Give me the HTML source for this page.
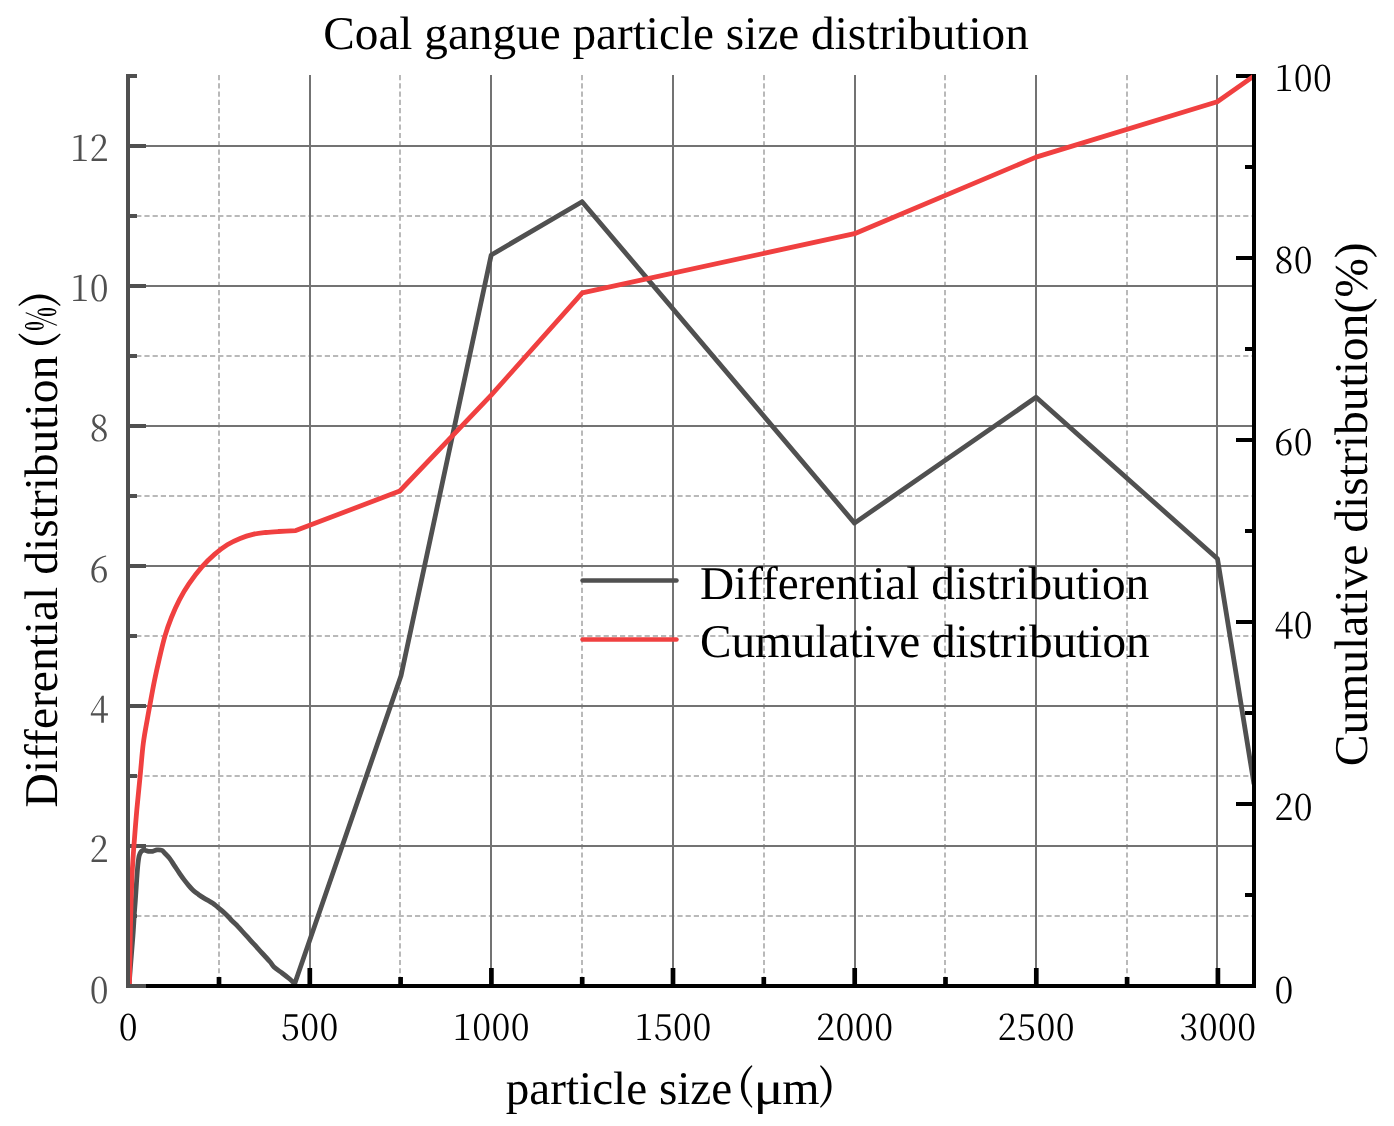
<!DOCTYPE html>
<html lang="en">
<head>
<meta charset="utf-8">
<title>Coal gangue particle size distribution</title>
<style>
html,body{margin:0;padding:0;background:#fff;}
body{width:1394px;height:1126px;overflow:hidden;}
svg{display:block;text-rendering:geometricPrecision;will-change:transform;}
.t{font-family:'Liberation Serif','Times New Roman',serif;font-size:47px;fill:#000;}
.n{font-family:'Noto Serif CJK SC','Liberation Serif',serif;font-size:36.8px;font-weight:400;fill:#000;letter-spacing:0.55px;}
.nl{fill:#505050;}
</style>
</head>
<body>
<svg width="1394" height="1126" viewBox="0 0 1394 1126">
<rect x="0" y="0" width="1394" height="1126" fill="#ffffff"/>
<g stroke="#b9b9b9" stroke-width="2" fill="none">
<line x1="219" y1="75" x2="219" y2="984" stroke-dasharray="5.2 3.07"/>
<line x1="400" y1="75" x2="400" y2="984" stroke-dasharray="5.2 3.07"/>
<line x1="582" y1="75" x2="582" y2="984" stroke-dasharray="5.2 3.07"/>
<line x1="764" y1="75" x2="764" y2="984" stroke-dasharray="5.2 3.07"/>
<line x1="945" y1="75" x2="945" y2="984" stroke-dasharray="5.2 3.07"/>
<line x1="1127" y1="75" x2="1127" y2="984" stroke-dasharray="5.2 3.07"/>
<line x1="128" y1="916.0" x2="1252" y2="916.0" stroke-dasharray="5.2 3"/>
<line x1="128" y1="776.0" x2="1252" y2="776.0" stroke-dasharray="5.2 3"/>
<line x1="128" y1="636.0" x2="1252" y2="636.0" stroke-dasharray="5.2 3"/>
<line x1="128" y1="496.0" x2="1252" y2="496.0" stroke-dasharray="5.2 3"/>
<line x1="128" y1="356.0" x2="1252" y2="356.0" stroke-dasharray="5.2 3"/>
<line x1="128" y1="216.0" x2="1252" y2="216.0" stroke-dasharray="5.2 3"/>
</g>
<g stroke="#737373" stroke-width="2" fill="none">
<line x1="310" y1="75" x2="310" y2="984"/>
<line x1="491" y1="75" x2="491" y2="984"/>
<line x1="673" y1="75" x2="673" y2="984"/>
<line x1="855" y1="75" x2="855" y2="984"/>
<line x1="1036" y1="75" x2="1036" y2="984"/>
<line x1="1217" y1="75" x2="1217" y2="984"/>
<line x1="130" y1="846.0" x2="1252" y2="846.0"/>
<line x1="130" y1="706.0" x2="1252" y2="706.0"/>
<line x1="130" y1="566.0" x2="1252" y2="566.0"/>
<line x1="130" y1="426.0" x2="1252" y2="426.0"/>
<line x1="130" y1="286.0" x2="1252" y2="286.0"/>
<line x1="130" y1="146.0" x2="1252" y2="146.0"/>
</g>
<g stroke="#000" stroke-width="4" fill="none" stroke-linecap="butt">
<line x1="126" y1="986" x2="1256" y2="986"/>
<line x1="309.8" y1="986" x2="309.8" y2="968" stroke-width="4.7"/>
<line x1="491.4" y1="986" x2="491.4" y2="968" stroke-width="4.7"/>
<line x1="673.0" y1="986" x2="673.0" y2="968" stroke-width="4.7"/>
<line x1="854.7" y1="986" x2="854.7" y2="968" stroke-width="4.7"/>
<line x1="1036.3" y1="986" x2="1036.3" y2="968" stroke-width="4.7"/>
<line x1="1217.9" y1="986" x2="1217.9" y2="968" stroke-width="4.7"/>
<line x1="219.0" y1="986" x2="219.0" y2="977" stroke-width="4.7"/>
<line x1="400.6" y1="986" x2="400.6" y2="977" stroke-width="4.7"/>
<line x1="582.2" y1="986" x2="582.2" y2="977" stroke-width="4.7"/>
<line x1="763.8" y1="986" x2="763.8" y2="977" stroke-width="4.7"/>
<line x1="945.5" y1="986" x2="945.5" y2="977" stroke-width="4.7"/>
<line x1="1127.1" y1="986" x2="1127.1" y2="977" stroke-width="4.7"/>
<line x1="1254" y1="74" x2="1254" y2="988"/>
<line x1="1254" y1="986.0" x2="1236" y2="986.0"/>
<line x1="1254" y1="804.0" x2="1236" y2="804.0"/>
<line x1="1254" y1="622.0" x2="1236" y2="622.0"/>
<line x1="1254" y1="440.0" x2="1236" y2="440.0"/>
<line x1="1254" y1="258.0" x2="1236" y2="258.0"/>
<line x1="1254" y1="76.0" x2="1236" y2="76.0"/>
<line x1="1254" y1="895.0" x2="1245" y2="895.0"/>
<line x1="1254" y1="713.0" x2="1245" y2="713.0"/>
<line x1="1254" y1="531.0" x2="1245" y2="531.0"/>
<line x1="1254" y1="349.0" x2="1245" y2="349.0"/>
<line x1="1254" y1="167.0" x2="1245" y2="167.0"/>
</g>
<g stroke="#505050" stroke-width="4" fill="none">
<line x1="128" y1="986.0" x2="146" y2="986.0"/>
<line x1="128" y1="846.0" x2="146" y2="846.0"/>
<line x1="128" y1="706.0" x2="146" y2="706.0"/>
<line x1="128" y1="566.0" x2="146" y2="566.0"/>
<line x1="128" y1="426.0" x2="146" y2="426.0"/>
<line x1="128" y1="286.0" x2="146" y2="286.0"/>
<line x1="128" y1="146.0" x2="146" y2="146.0"/>
<line x1="128" y1="916.0" x2="137" y2="916.0"/>
<line x1="128" y1="776.0" x2="137" y2="776.0"/>
<line x1="128" y1="636.0" x2="137" y2="636.0"/>
<line x1="128" y1="496.0" x2="137" y2="496.0"/>
<line x1="128" y1="356.0" x2="137" y2="356.0"/>
<line x1="128" y1="216.0" x2="137" y2="216.0"/>
<line x1="128" y1="76.0" x2="137" y2="76.0"/>
</g>
<clipPath id="pc"><rect x="130" y="70" width="1122" height="914"/></clipPath>
<g clip-path="url(#pc)" fill="none" stroke-width="4.8" stroke-linejoin="round" stroke-linecap="butt">
<path d="M129.0 986.0 C129.3 981.7 130.3 968.5 131.0 960.0 C131.7 951.5 132.4 942.9 133.0 935.0 C133.6 927.1 134.0 918.4 134.4 912.7 C134.8 907.0 134.9 906.5 135.3 901.0 C135.7 895.5 136.3 885.6 136.7 879.7 C137.1 873.8 137.4 869.5 137.8 865.5 C138.2 861.5 138.6 858.0 139.2 855.6 C139.8 853.2 140.5 852.2 141.3 851.3 C142.1 850.4 143.0 850.2 144.2 850.2 C145.4 850.2 147.0 851.1 148.4 851.3 C149.8 851.5 151.3 851.5 152.7 851.3 C154.1 851.1 155.4 850.0 156.9 849.9 C158.4 849.8 160.6 849.8 161.9 850.4 C163.2 851.0 163.5 851.9 164.8 853.2 C166.1 854.5 168.0 856.3 169.6 858.4 C171.2 860.5 172.8 863.2 174.4 865.6 C176.0 868.0 177.6 870.5 179.2 872.8 C180.8 875.1 182.4 877.5 184.0 879.6 C185.6 881.7 187.2 883.7 188.8 885.6 C190.4 887.5 192.0 889.3 193.6 890.8 C195.2 892.3 196.8 893.3 198.4 894.4 C200.0 895.5 201.6 896.6 203.2 897.6 C204.8 898.6 206.4 899.5 208.0 900.4 C209.6 901.3 211.2 902.1 212.8 903.2 C214.4 904.3 216.0 905.8 217.6 907.1 C219.2 908.4 220.8 909.7 222.4 911.1 C224.0 912.5 225.5 913.9 227.1 915.5 C228.7 917.1 230.1 918.9 231.9 920.7 C233.7 922.6 235.7 924.2 238.0 926.6 C240.3 929.0 243.3 932.5 246.0 935.4 C248.7 938.3 251.3 941.3 254.0 944.2 C256.7 947.1 259.3 950.1 262.0 953.0 C264.7 955.9 268.0 959.5 270.0 961.8 C272.0 964.1 272.0 965.1 274.0 967.0 C276.0 968.9 279.3 971.0 282.0 973.0 C284.7 975.0 287.9 977.5 290.0 979.3 C292.1 981.1 293.9 983.0 294.7 983.7 L401.0 675.8 L491.2 255.0 L582.1 201.7 L854.5 523.1 L1036.1 397.3 L1217.5 558.8 L1254.0 784.2" stroke="#505050"/>
<path d="M129.4 986.0 C129.5 981.1 129.7 968.2 129.9 956.7 C130.1 945.2 130.3 930.0 130.7 916.7 C131.0 903.4 131.5 888.5 132.0 876.7 C132.5 864.9 133.1 857.1 133.9 846.0 C134.7 834.9 135.8 821.8 136.8 810.0 C137.9 798.2 139.1 786.4 140.2 775.3 C141.3 764.2 142.1 752.5 143.3 743.3 C144.5 734.1 145.9 727.2 147.2 720.0 C148.4 712.8 149.6 706.7 150.8 700.0 C152.0 693.3 153.2 686.7 154.6 679.9 C156.0 673.1 157.5 666.4 159.2 659.1 C160.9 651.8 163.0 642.8 165.0 635.9 C167.0 629.0 169.0 623.5 171.4 617.5 C173.8 611.5 176.5 605.5 179.4 599.9 C182.3 594.3 185.2 589.3 188.9 583.9 C192.6 578.5 197.4 572.1 201.7 567.2 C206.0 562.3 210.2 558.1 214.5 554.4 C218.8 550.7 223.0 547.5 227.3 544.8 C231.6 542.1 235.8 540.1 240.1 538.4 C244.4 536.7 248.6 535.4 252.9 534.4 C257.2 533.4 261.4 533.0 265.7 532.5 C270.0 532.0 273.5 531.8 278.5 531.5 C283.5 531.2 292.9 530.8 295.8 530.6 L399.8 491.0 L491.2 395.1 L582.3 292.9 L854.5 233.7 L1036.1 157.1 L1217.3 101.8 L1254.0 76.0" stroke="#F04040"/>
</g>
<line x1="128" y1="74" x2="128" y2="988" stroke="#505050" stroke-width="4"/>
<line x1="582.5" y1="580.6" x2="676.5" y2="580.6" stroke="#505050" stroke-width="4.5" stroke-linecap="round"/>
<line x1="582.5" y1="639.5" x2="676.5" y2="639.5" stroke="#F04040" stroke-width="4.5" stroke-linecap="round"/>
<text class="t" transform="translate(699.9 599) scale(1.0055 1)">Differential distribution</text>
<text class="t" transform="translate(699.9 656.6) scale(1.0045 1)">Cumulative distribution</text>
<text class="t" transform="translate(323.3 49.4) scale(1.0047 1)">Coal gangue particle size distribution</text>
<g><text class="t" transform="translate(505.8 1104) scale(1.003 1)">particle size</text><text transform="translate(736.77 1099.30) scale(1.12 1)" style="font-family:'Noto Serif CJK SC','Liberation Serif',serif;font-size:41px;font-weight:500">(</text><text transform="translate(753.59 1104.00) scale(1.2 1)" style="font-family:'Liberation Serif','Times New Roman',serif;font-size:47px;font-weight:400">μ</text><text transform="translate(782.14 1104.00) scale(1.02 1)" style="font-family:'Liberation Serif','Times New Roman',serif;font-size:47px;font-weight:400">m</text><text transform="translate(818.62 1099.30) scale(1.12 1)" style="font-family:'Noto Serif CJK SC','Liberation Serif',serif;font-size:41px;font-weight:500">)</text></g>
<g><text class="t" transform="translate(57.1 807.4) rotate(-90) scale(1.0108 1)">Differential distribution</text><g transform="translate(57.1 806.5) rotate(-90)"><text transform="translate(457.27 -4.70) scale(1.12 1)" style="font-family:'Noto Serif CJK SC','Liberation Serif',serif;font-size:41px;font-weight:500">(</text><text transform="translate(475.61 -1.50) scale(0.6 1)" style="font-family:'Noto Serif CJK SC','Liberation Serif',serif;font-size:41.4px;font-weight:700">%</text><text transform="translate(499.12 -4.70) scale(1.12 1)" style="font-family:'Noto Serif CJK SC','Liberation Serif',serif;font-size:41px;font-weight:500">)</text></g></g>
<text class="t" transform="translate(1367.2 766.2) rotate(-90) scale(1.0107 1)">Cumulative distribution(%)</text>
<text class="n nl" text-anchor="end" transform="translate(109.0 1002.5) scale(0.93 1)">0</text>
<text class="n nl" text-anchor="end" transform="translate(109.0 862.2) scale(0.93 1)">2</text>
<text class="n nl" text-anchor="end" transform="translate(109.0 721.9) scale(0.93 1)">4</text>
<text class="n nl" text-anchor="end" transform="translate(109.0 581.6) scale(0.93 1)">6</text>
<text class="n nl" text-anchor="end" transform="translate(109.0 441.3) scale(0.93 1)">8</text>
<text class="n nl" text-anchor="end" transform="translate(109.0 301.0) scale(0.93 1)">10</text>
<text class="n nl" text-anchor="end" transform="translate(109.0 160.7) scale(0.93 1)">12</text>
<text class="n" text-anchor="middle" transform="translate(128.3 1039.5) scale(0.93 1)">0</text>
<text class="n" text-anchor="middle" transform="translate(309.9 1039.5) scale(0.93 1)">500</text>
<text class="n" text-anchor="middle" transform="translate(491.5 1039.5) scale(0.93 1)">1000</text>
<text class="n" text-anchor="middle" transform="translate(673.1 1039.5) scale(0.93 1)">1500</text>
<text class="n" text-anchor="middle" transform="translate(854.8 1039.5) scale(0.93 1)">2000</text>
<text class="n" text-anchor="middle" transform="translate(1036.4 1039.5) scale(0.93 1)">2500</text>
<text class="n" text-anchor="middle" transform="translate(1218.0 1039.5) scale(0.93 1)">3000</text>
<text class="n" text-anchor="start" transform="translate(1274.4 1002.5) scale(0.93 1)">0</text>
<text class="n" text-anchor="start" transform="translate(1274.4 820.1) scale(0.93 1)">20</text>
<text class="n" text-anchor="start" transform="translate(1274.4 637.7) scale(0.93 1)">40</text>
<text class="n" text-anchor="start" transform="translate(1274.4 455.3) scale(0.93 1)">60</text>
<text class="n" text-anchor="start" transform="translate(1274.4 272.9) scale(0.93 1)">80</text>
<text class="n" text-anchor="start" transform="translate(1274.4 90.5) scale(0.93 1)">100</text>
</svg>
</body>
</html>
